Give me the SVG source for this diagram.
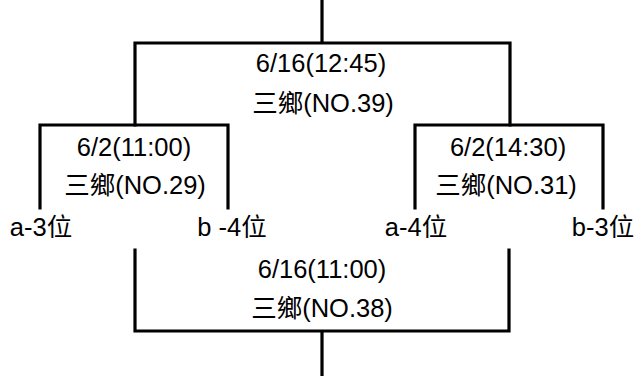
<svg xmlns="http://www.w3.org/2000/svg" width="637" height="376" viewBox="0 0 637 376">
<style>
.l{fill:none;stroke:#000;stroke-width:3.2;stroke-linecap:square}
text{font-family:"Liberation Sans","Noto Sans CJK TC",Arial,sans-serif;font-size:25.5px;fill:#000;text-anchor:middle}
</style>
<rect width="637" height="376" fill="#fff"/>
<g id="connectors">
<path class="l" d="M322,0V43M135,125V43H510V125"/>
<path class="l" d="M40,208V125H228V208"/>
<path class="l" d="M415,208V125H603V208"/>
<path class="l" d="M135,250V331H509V250M322,331V376"/>
</g>
<g id="final"><text x="321" y="72">6/16(12:45)</text><text x="323" y="112">三鄉(NO.39)</text></g>
<g id="semi1"><text x="134" y="156">6/2(11:00)</text><text x="135" y="194">三鄉(NO.29)</text></g>
<g id="semi2"><text x="508" y="156">6/2(14:30)</text><text x="506" y="194">三鄉(NO.31)</text></g>
<g id="third"><text x="322" y="278">6/16(11:00)</text><text x="322" y="317">三鄉(NO.38)</text></g>
<g id="leaves"><text x="41" y="236">a-3位</text><text x="232" y="236">b -4位</text><text x="416" y="236">a-4位</text><text x="603" y="236">b-3位</text></g>
</svg>
